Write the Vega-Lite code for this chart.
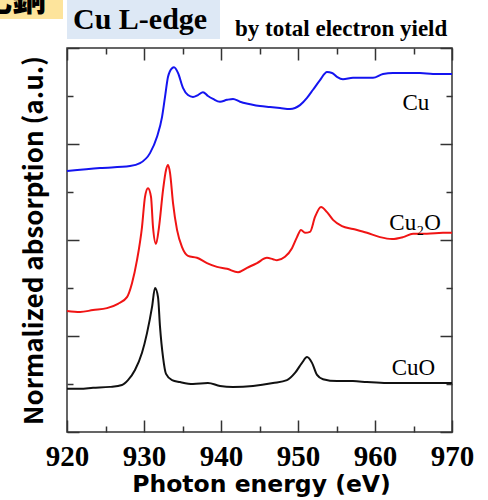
{
  "$schema": "https://vega.github.io/schema/vega-lite/v6.json",
  "autosize": {"type": "none"},
  "padding": {"left": 67, "top": 48, "right": 36, "bottom": 68},
  "width": 385,
  "height": 384,
  "background": "white",
  "config": {
    "view": {"stroke": "#333333", "strokeWidth": 1.5},
    "axis": {"domain": false, "grid": false, "tickColor": "#333333", "tickWidth": 1.5, "labelColor": "black", "titleColor": "black"}
  },
  "datasets": {
    "spectra": [
      {"sample": "Cu", "E": 920.0, "A": 5.44}, {"sample": "Cu", "E": 924.29, "A": 5.50}, {"sample": "Cu", "E": 928.18, "A": 5.54}, {"sample": "Cu", "E": 929.48, "A": 5.60}, {"sample": "Cu", "E": 930.78, "A": 5.81}, {"sample": "Cu", "E": 931.69, "A": 6.15}, {"sample": "Cu", "E": 932.34, "A": 6.56}, {"sample": "Cu", "E": 932.73, "A": 6.98}, {"sample": "Cu", "E": 933.12, "A": 7.40}, {"sample": "Cu", "E": 933.64, "A": 7.58}, {"sample": "Cu", "E": 933.90, "A": 7.60}, {"sample": "Cu", "E": 934.42, "A": 7.48}, {"sample": "Cu", "E": 935.06, "A": 7.17}, {"sample": "Cu", "E": 935.71, "A": 7.02}, {"sample": "Cu", "E": 936.36, "A": 6.98}, {"sample": "Cu", "E": 937.01, "A": 7.02}, {"sample": "Cu", "E": 937.66, "A": 7.08}, {"sample": "Cu", "E": 938.31, "A": 7.00}, {"sample": "Cu", "E": 938.96, "A": 6.94}, {"sample": "Cu", "E": 939.87, "A": 6.88}, {"sample": "Cu", "E": 940.78, "A": 6.92}, {"sample": "Cu", "E": 941.56, "A": 6.94}, {"sample": "Cu", "E": 942.47, "A": 6.88}, {"sample": "Cu", "E": 943.77, "A": 6.83}, {"sample": "Cu", "E": 945.06, "A": 6.79}, {"sample": "Cu", "E": 946.36, "A": 6.77}, {"sample": "Cu", "E": 947.66, "A": 6.75}, {"sample": "Cu", "E": 948.96, "A": 6.73}, {"sample": "Cu", "E": 949.61, "A": 6.75}, {"sample": "Cu", "E": 950.26, "A": 6.81}, {"sample": "Cu", "E": 951.17, "A": 6.96}, {"sample": "Cu", "E": 951.95, "A": 7.13}, {"sample": "Cu", "E": 952.86, "A": 7.33}, {"sample": "Cu", "E": 953.77, "A": 7.50}, {"sample": "Cu", "E": 954.42, "A": 7.48}, {"sample": "Cu", "E": 955.06, "A": 7.40}, {"sample": "Cu", "E": 955.84, "A": 7.35}, {"sample": "Cu", "E": 957.14, "A": 7.38}, {"sample": "Cu", "E": 958.44, "A": 7.38}, {"sample": "Cu", "E": 959.74, "A": 7.38}, {"sample": "Cu", "E": 961.04, "A": 7.46}, {"sample": "Cu", "E": 962.34, "A": 7.48}, {"sample": "Cu", "E": 964.16, "A": 7.48}, {"sample": "Cu", "E": 965.84, "A": 7.48}, {"sample": "Cu", "E": 967.53, "A": 7.46}, {"sample": "Cu", "E": 970.0, "A": 7.46},
      {"sample": "Cu2O", "E": 920.0, "A": 2.52}, {"sample": "Cu2O", "E": 921.69, "A": 2.50}, {"sample": "Cu2O", "E": 923.38, "A": 2.54}, {"sample": "Cu2O", "E": 925.19, "A": 2.58}, {"sample": "Cu2O", "E": 926.62, "A": 2.67}, {"sample": "Cu2O", "E": 927.79, "A": 2.81}, {"sample": "Cu2O", "E": 928.44, "A": 3.10}, {"sample": "Cu2O", "E": 929.09, "A": 3.58}, {"sample": "Cu2O", "E": 929.74, "A": 4.27}, {"sample": "Cu2O", "E": 930.13, "A": 4.90}, {"sample": "Cu2O", "E": 930.52, "A": 5.08}, {"sample": "Cu2O", "E": 930.91, "A": 4.90}, {"sample": "Cu2O", "E": 931.17, "A": 4.27}, {"sample": "Cu2O", "E": 931.56, "A": 3.92}, {"sample": "Cu2O", "E": 931.95, "A": 4.27}, {"sample": "Cu2O", "E": 932.47, "A": 5.04}, {"sample": "Cu2O", "E": 932.86, "A": 5.46}, {"sample": "Cu2O", "E": 933.12, "A": 5.56}, {"sample": "Cu2O", "E": 933.38, "A": 5.40}, {"sample": "Cu2O", "E": 933.77, "A": 4.77}, {"sample": "Cu2O", "E": 934.29, "A": 4.21}, {"sample": "Cu2O", "E": 934.94, "A": 3.85}, {"sample": "Cu2O", "E": 935.71, "A": 3.67}, {"sample": "Cu2O", "E": 936.88, "A": 3.63}, {"sample": "Cu2O", "E": 938.18, "A": 3.52}, {"sample": "Cu2O", "E": 939.48, "A": 3.44}, {"sample": "Cu2O", "E": 940.78, "A": 3.40}, {"sample": "Cu2O", "E": 942.21, "A": 3.33}, {"sample": "Cu2O", "E": 943.38, "A": 3.42}, {"sample": "Cu2O", "E": 944.68, "A": 3.52}, {"sample": "Cu2O", "E": 945.97, "A": 3.63}, {"sample": "Cu2O", "E": 946.75, "A": 3.60}, {"sample": "Cu2O", "E": 947.27, "A": 3.58}, {"sample": "Cu2O", "E": 948.31, "A": 3.65}, {"sample": "Cu2O", "E": 949.22, "A": 3.83}, {"sample": "Cu2O", "E": 949.87, "A": 4.06}, {"sample": "Cu2O", "E": 950.39, "A": 4.21}, {"sample": "Cu2O", "E": 950.91, "A": 4.15}, {"sample": "Cu2O", "E": 951.56, "A": 4.17}, {"sample": "Cu2O", "E": 952.21, "A": 4.48}, {"sample": "Cu2O", "E": 952.99, "A": 4.69}, {"sample": "Cu2O", "E": 953.77, "A": 4.58}, {"sample": "Cu2O", "E": 954.55, "A": 4.42}, {"sample": "Cu2O", "E": 955.71, "A": 4.29}, {"sample": "Cu2O", "E": 957.14, "A": 4.23}, {"sample": "Cu2O", "E": 958.96, "A": 4.15}, {"sample": "Cu2O", "E": 960.65, "A": 4.06}, {"sample": "Cu2O", "E": 962.21, "A": 4.02}, {"sample": "Cu2O", "E": 963.64, "A": 4.06}, {"sample": "Cu2O", "E": 964.94, "A": 4.13}, {"sample": "Cu2O", "E": 966.75, "A": 4.13}, {"sample": "Cu2O", "E": 968.83, "A": 4.15}, {"sample": "Cu2O", "E": 970.0, "A": 4.15},
      {"sample": "CuO", "E": 920.0, "A": 0.90}, {"sample": "CuO", "E": 921.69, "A": 0.90}, {"sample": "CuO", "E": 923.38, "A": 0.92}, {"sample": "CuO", "E": 925.58, "A": 0.94}, {"sample": "CuO", "E": 927.14, "A": 0.98}, {"sample": "CuO", "E": 927.92, "A": 1.08}, {"sample": "CuO", "E": 928.83, "A": 1.29}, {"sample": "CuO", "E": 929.74, "A": 1.65}, {"sample": "CuO", "E": 930.39, "A": 2.06}, {"sample": "CuO", "E": 931.04, "A": 2.60}, {"sample": "CuO", "E": 931.43, "A": 3.00}, {"sample": "CuO", "E": 931.82, "A": 2.81}, {"sample": "CuO", "E": 932.08, "A": 2.19}, {"sample": "CuO", "E": 932.47, "A": 1.56}, {"sample": "CuO", "E": 932.86, "A": 1.21}, {"sample": "CuO", "E": 933.64, "A": 1.08}, {"sample": "CuO", "E": 934.68, "A": 1.04}, {"sample": "CuO", "E": 936.36, "A": 1.00}, {"sample": "CuO", "E": 938.31, "A": 1.02}, {"sample": "CuO", "E": 939.87, "A": 0.96}, {"sample": "CuO", "E": 941.56, "A": 0.94}, {"sample": "CuO", "E": 944.16, "A": 0.96}, {"sample": "CuO", "E": 946.75, "A": 1.02}, {"sample": "CuO", "E": 948.57, "A": 1.08}, {"sample": "CuO", "E": 949.61, "A": 1.23}, {"sample": "CuO", "E": 950.52, "A": 1.44}, {"sample": "CuO", "E": 951.17, "A": 1.56}, {"sample": "CuO", "E": 951.82, "A": 1.44}, {"sample": "CuO", "E": 952.47, "A": 1.19}, {"sample": "CuO", "E": 953.25, "A": 1.10}, {"sample": "CuO", "E": 955.06, "A": 1.06}, {"sample": "CuO", "E": 957.14, "A": 1.06}, {"sample": "CuO", "E": 958.96, "A": 1.04}, {"sample": "CuO", "E": 961.56, "A": 1.02}, {"sample": "CuO", "E": 964.16, "A": 1.02}, {"sample": "CuO", "E": 966.75, "A": 1.02}, {"sample": "CuO", "E": 970.0, "A": 1.02}
    ],
    "curveLabels": [
      {"label": "Cu", "E": 965.3, "A": 6.71},
      {"label": "Cu₂O", "E": 965.2, "A": 4.21},
      {"label": "CuO", "E": 965.0, "A": 1.19}
    ],
    "boxes": [
      {"box": "left", "E1": 910.0, "E2": 919.48, "A1": 8.604, "A2": 9.3, "fill": "#fde49c"},
      {"box": "title", "E1": 920.0, "E2": 939.87, "A1": 8.19, "A2": 9.3, "fill": "#dde8f5"}
    ]
  },
  "resolve": {"axis": {"x": "independent", "y": "independent"}},
  "layer": [
    {
      "data": {"name": "spectra"},
      "mark": {"type": "line", "strokeWidth": 2, "interpolate": "monotone"},
      "encoding": {
        "x": {
          "field": "E", "type": "quantitative",
          "scale": {"domain": [920, 970], "nice": false, "zero": false},
          "axis": {
            "orient": "bottom",
            "values": [920, 925, 930, 935, 940, 945, 950, 955, 960, 965, 970],
            "tickSize": {"condition": {"test": "datum.value % 10 === 0", "value": -12}, "value": -6},
            "labelExpr": "datum.value % 10 === 0 ? datum.label : ''",
            "labelFont": "Liberation Serif", "labelFontWeight": "bold", "labelFontSize": 29,
            "labelBaseline": "alphabetic",
            "labelPadding": 45, "labelFlush": false, "labelOverlap": false,
            "title": "Photon energy (eV)",
            "titleFont": "DejaVu Sans", "titleFontWeight": "bold", "titleFontSize": 23.5,
            "titleBaseline": "alphabetic", "titleX": 194, "titleY": 59
          }
        },
        "y": {
          "field": "A", "type": "quantitative",
          "scale": {"domain": [0, 8], "nice": false, "zero": false},
          "axis": {
            "orient": "left",
            "values": [0, 1, 2, 3, 4, 5, 6, 7, 8],
            "tickSize": {"condition": {"test": "datum.value % 2 === 0", "value": -12}, "value": -6},
            "labels": false,
            "title": "Normalized absorption (a.u.)",
            "titleFont": "Noto Sans CJK JP", "titleFontWeight": "bold", "titleFontSize": 26,
            "titleBaseline": "alphabetic", "titleAngle": -90, "titleX": -25, "titleY": 192
          }
        },
        "color": {
          "field": "sample", "type": "nominal",
          "scale": {"domain": ["Cu", "Cu2O", "CuO"], "range": ["#1414f0", "#f01414", "#111111"]},
          "legend": null
        }
      }
    },
    {
      "data": {"name": "curveLabels"},
      "mark": {"type": "text", "font": "Liberation Serif", "fontSize": 23, "align": "center", "baseline": "alphabetic", "color": "black"},
      "encoding": {
        "x": {
          "field": "E", "type": "quantitative",
          "scale": {"domain": [920, 970], "nice": false, "zero": false},
          "axis": {
            "orient": "top",
            "values": [920, 925, 930, 935, 940, 945, 950, 955, 960, 965, 970],
            "tickSize": {"condition": {"test": "datum.value % 10 === 0", "value": -12}, "value": -6},
            "labels": false, "title": null
          }
        },
        "y": {
          "field": "A", "type": "quantitative",
          "scale": {"domain": [0, 8], "nice": false, "zero": false},
          "axis": {
            "orient": "right",
            "values": [0, 1, 2, 3, 4, 5, 6, 7, 8],
            "tickSize": {"condition": {"test": "datum.value % 2 === 0", "value": -12}, "value": -6},
            "labels": false, "title": null
          }
        },
        "text": {"field": "label"}
      }
    },
    {
      "data": {"name": "boxes"},
      "mark": {"type": "rect"},
      "encoding": {
        "x": {"field": "E1", "type": "quantitative", "axis": null},
        "x2": {"field": "E2"},
        "y": {"field": "A1", "type": "quantitative", "axis": null},
        "y2": {"field": "A2"},
        "fill": {"field": "fill", "type": "nominal", "scale": null}
      }
    },
    {
      "data": {"values": [{"text": "化銅", "E": 917.27, "A": 8.77}]},
      "mark": {"type": "text", "font": "Noto Sans CJK JP", "fontSize": 34, "fontWeight": 900, "align": "right", "baseline": "alphabetic", "color": "black"},
      "encoding": {
        "x": {"field": "E", "type": "quantitative", "axis": null},
        "y": {"field": "A", "type": "quantitative", "axis": null},
        "text": {"field": "text"}
      }
    },
    {
      "data": {"values": [{"text": "Cu L-edge", "E": 920.78, "A": 8.396}]},
      "mark": {"type": "text", "font": "Liberation Serif", "fontSize": 30, "fontWeight": "bold", "align": "left", "baseline": "alphabetic", "color": "black"},
      "encoding": {
        "x": {"field": "E", "type": "quantitative", "axis": null},
        "y": {"field": "A", "type": "quantitative", "axis": null},
        "text": {"field": "text"}
      }
    },
    {
      "data": {"values": [{"text": "by total electron yield", "E": 941.82, "A": 8.25}]},
      "mark": {"type": "text", "font": "Liberation Serif", "fontSize": 23, "fontWeight": "bold", "align": "left", "baseline": "alphabetic", "color": "black"},
      "encoding": {
        "x": {"field": "E", "type": "quantitative", "axis": null},
        "y": {"field": "A", "type": "quantitative", "axis": null},
        "text": {"field": "text"}
      }
    }
  ]
}
